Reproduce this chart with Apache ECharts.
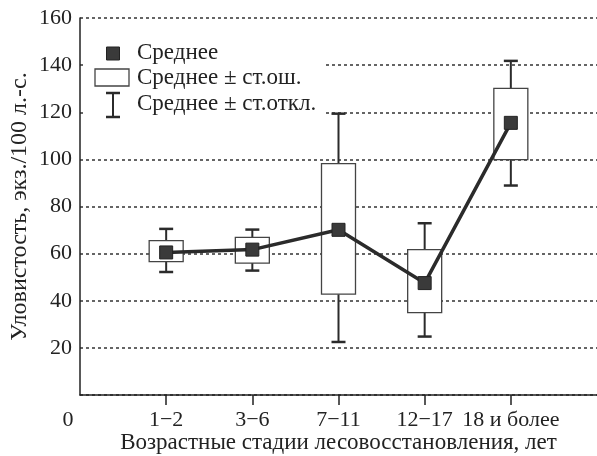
<!DOCTYPE html>
<html>
<head>
<meta charset="utf-8">
<script src="https://cdn.jsdelivr.net/npm/echarts@6/dist/echarts.min.js"></script>
<style>
  html, body { margin: 0; padding: 0; background: #fff; }
  #chart { width: 597px; height: 456px; }
</style>
</head>
<body>
<div id="chart"></div>
<script>
// подписи оси X (0 и пустая позиция справа - только для разметки)
var categories = ['0', '1\u22122', '3\u22126', '7\u221211', '12\u221217', '18 и более', ''];
var stages = [1, 2, 3, 4, 5];
// средние
var means = [60.5, 61.7, 70.1, 47.5, 115.5];
// среднее ± ст.ош.
var seLow = [56.6, 56.0, 42.8, 35.0, 99.9];
var seHigh = [65.5, 66.9, 98.2, 61.7, 130.1];
// среднее ± ст.откл.
var sdLow = [52.2, 52.8, 22.5, 24.8, 88.9];
var sdHigh = [70.5, 70.2, 119.4, 72.9, 141.8];

var font = 'Liberation Serif';
var ink = '#2b2b2b';

(function () {
    var myChart = echarts.init(document.getElementById('chart'));

    var boxData = stages.map(function (s, i) { return [s, seLow[i], seHigh[i]]; });
    var whiskerData = stages.map(function (s, i) { return [s, sdLow[i], sdHigh[i], seLow[i], seHigh[i]]; });
    var meanData = stages.map(function (s, i) { return [s, means[i]]; });

    function legendText(txt, y) {
        return {
            type: 'text', z: 101, x: 137, y: y,
            style: { text: txt, fontFamily: font, fontSize: 23, fill: '#222', verticalAlign: 'middle' }
        };
    }

    var option = {
        animation: false,
        grid: { left: 80, right: 0, top: 18, bottom: 61, outerBoundsMode: 'none', containLabel: false },
        xAxis: {
            type: 'category',
            data: categories,
            boundaryGap: false,
            name: 'Возрастные стадии лесовосстановления, лет',
            nameLocation: 'middle',
            nameGap: 36,
            nameMoveOverlap: false,
            nameTextStyle: { fontFamily: font, fontSize: 23, color: '#222' },
            axisLine: { lineStyle: { color: '#222', width: 1.5 } },
            axisTick: {
                length: 10,
                interval: function (index) { return index > 0 && index < 6; },
                lineStyle: { color: '#222', width: 1.5 }
            },
            axisLabel: {
                interval: 0,
                margin: 14,
                fontFamily: font,
                fontSize: 22,
                color: '#222',
                formatter: function (v, i) { return i === 0 ? '{z|0}' : v; },
                rich: { z: { fontFamily: font, fontSize: 22, color: '#222', padding: [0, 24, 0, 0] } }
            },
            splitLine: { show: false }
        },
        yAxis: {
            type: 'value',
            min: 0,
            max: 160,
            interval: 20,
            name: 'Уловистость, экз./100 л.-с.',
            nameLocation: 'middle',
            nameGap: 48,
            nameMoveOverlap: false,
            nameTextStyle: { fontFamily: font, fontSize: 24, color: '#222' },
            axisLine: { show: true, lineStyle: { color: '#222', width: 1.5 } },
            axisTick: { show: false },
            axisLabel: {
                margin: 8,
                fontFamily: font,
                fontSize: 22,
                color: '#222',
                formatter: function (v) { return v === 0 ? '' : String(v); }
            },
            splitLine: {
                show: true,
                lineStyle: { color: '#333', width: 1.5, type: [3, 3] }
            }
        },
        graphic: [
            { type: 'rect', z: 100, shape: { x: 84, y: 38, width: 240, height: 80 }, style: { fill: '#fff' } },
            { type: 'rect', z: 101, shape: { x: 106.5, y: 47, width: 13, height: 13 }, style: { fill: '#3a3a3a', stroke: '#222', lineWidth: 1 } },
            { type: 'rect', z: 101, shape: { x: 95, y: 69, width: 34, height: 17 }, style: { fill: '#fff', stroke: '#444', lineWidth: 1.3 } },
            { type: 'line', z: 101, shape: { x1: 113, y1: 93, x2: 113, y2: 117 }, style: { stroke: ink, lineWidth: 2 } },
            { type: 'line', z: 101, shape: { x1: 106, y1: 93, x2: 120, y2: 93 }, style: { stroke: ink, lineWidth: 2.5 } },
            { type: 'line', z: 101, shape: { x1: 106, y1: 117, x2: 120, y2: 117 }, style: { stroke: ink, lineWidth: 2.5 } },
            legendText('Среднее', 53),
            legendText('Среднее \u00b1 ст.ош.', 78),
            legendText('Среднее \u00b1 ст.откл.', 104)
        ],
        series: [
            {
                name: 'Среднее ± ст.откл.',
                type: 'custom',
                z: 2,
                data: whiskerData,
                renderItem: function (params, api) {
                    var x = api.coord([api.value(0), 0])[0];
                    var lo = api.coord([api.value(0), api.value(1)])[1];
                    var hi = api.coord([api.value(0), api.value(2)])[1];
                    var bLo = api.coord([api.value(0), api.value(3)])[1];
                    var bHi = api.coord([api.value(0), api.value(4)])[1];
                    var st = { stroke: ink, lineWidth: 2 };
                    var cap = { stroke: ink, lineWidth: 2.5 };
                    return {
                        type: 'group',
                        children: [
                            { type: 'line', shape: { x1: x, y1: hi, x2: x, y2: bHi }, style: st },
                            { type: 'line', shape: { x1: x, y1: bLo, x2: x, y2: lo }, style: st },
                            { type: 'line', shape: { x1: x - 7, y1: hi, x2: x + 7, y2: hi }, style: cap },
                            { type: 'line', shape: { x1: x - 7, y1: lo, x2: x + 7, y2: lo }, style: cap }
                        ]
                    };
                }
            },
            {
                name: 'Среднее ± ст.ош.',
                type: 'custom',
                z: 3,
                data: boxData,
                renderItem: function (params, api) {
                    var p1 = api.coord([api.value(0), api.value(2)]);
                    var p2 = api.coord([api.value(0), api.value(1)]);
                    var w = 34;
                    return {
                        type: 'rect',
                        shape: { x: p1[0] - w / 2, y: p1[1], width: w, height: p2[1] - p1[1] },
                        style: { fill: '#fff', stroke: '#444', lineWidth: 1.3 }
                    };
                }
            },
            {
                name: 'Среднее',
                type: 'line',
                z: 4,
                data: meanData,
                symbol: 'rect',
                symbolSize: 13,
                lineStyle: { color: ink, width: 3.5 },
                itemStyle: { color: '#3a3a3a', borderColor: '#222', borderWidth: 1 }
            }
        ]
    };

    myChart.setOption(option);
    window.addEventListener('resize', function () {
        myChart.resize();
    });
})();
</script>
</body>
</html>
